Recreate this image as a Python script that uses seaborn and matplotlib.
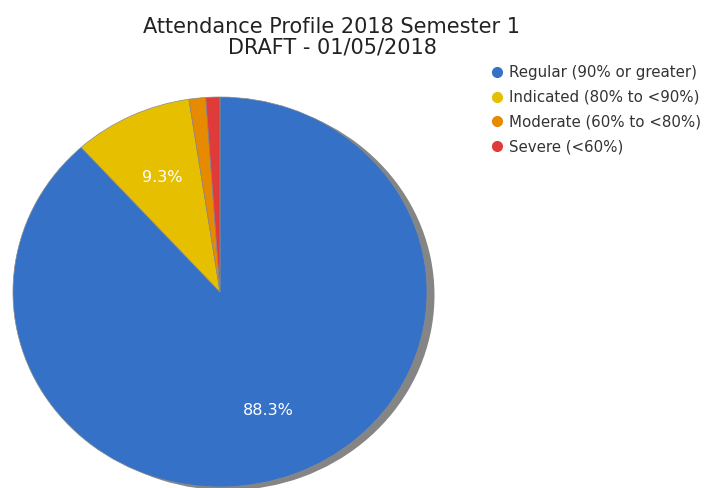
'''
Attendance profile pie chart (recreated from a report screenshot)
'''

import matplotlib
matplotlib.use('Agg')
import matplotlib.pyplot as plt
from matplotlib.lines import Line2D
import seaborn as sns

# chart data
categories = ['Regular (90% or greater)', 'Indicated (80% to <90%)',
              'Moderate (60% to <80%)', 'Severe (<60%)']
percentages = [88.3, 9.3, 1.3, 1.1]
colours = ['#3572C7', '#E6C000', '#E68A00', '#E03B3B']
title_lines = ['Attendance Profile 2018 Semester 1', 'DRAFT - 01/05/2018']

sns.set_theme(style='white')
plt.rcParams['font.family'] = ['DejaVu Sans']

fig = plt.figure(figsize=(7.1, 4.88), dpi=100)
fig.patch.set_facecolor('white')

# axes placed so the (slightly flattened) pie sits where it is in the original
ax = fig.add_axes([0.0037, -0.0179, 0.6123, 0.8391])


def pct_label(p):
    # only the two big slices get a label
    return f'{p:.1f}%' if p >= 5 else ''


wedges, texts, autotexts = ax.pie(
    percentages,
    colors=colours,
    startangle=90,
    counterclock=False,
    autopct=pct_label,
    pctdistance=0.65,
    radius=1,
    wedgeprops={'linewidth': 0.5, 'edgecolor': '#8a8a8a'},
    shadow={'ox': 0.026, 'oy': -0.012, 'facecolor': '#858585',
            'edgecolor': 'none', 'alpha': 1},
    textprops={'color': 'white', 'fontsize': 11.5},
)
ax.set_aspect('auto')
ax.set_xlim(-1.05, 1.05)
ax.set_ylim(-1.05, 1.05)
ax.axis('off')

# two title lines, centred over the whole figure width of the original chart
fig.text(0.4676, 1 - 33 / 488, title_lines[0], ha='center', va='baseline',
         fontsize=15, color='#222222')
fig.text(0.4676, 1 - 53.5 / 488, title_lines[1], ha='center', va='baseline',
         fontsize=15, color='#222222')

handles = [Line2D([0], [0], marker='o', linestyle='none', markersize=7,
                  markerfacecolor=c, markeredgecolor=c) for c in colours]
fig.legend(handles, categories, loc='upper left',
           bbox_to_anchor=(0.69, 0.867), frameon=False, fontsize=10.8,
           handlelength=0.95, handletextpad=0.3, labelspacing=0.66,
           borderpad=0, borderaxespad=0, labelcolor='#333333')

fig.savefig('out.png', dpi=100, facecolor='white')
